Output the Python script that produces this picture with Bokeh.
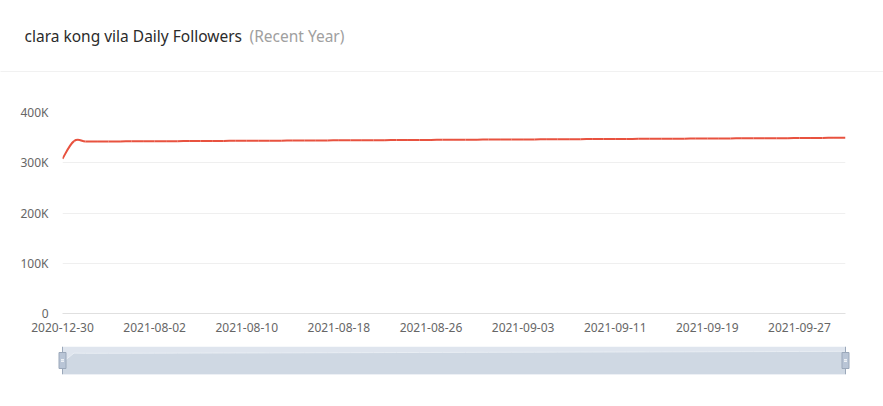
from bokeh.plotting import figure
from bokeh.models import Range1d, FixedTicker, ColumnDataSource
from bokeh.core.properties import value
from bokeh.embed import file_html
from bokeh.resources import INLINE

title_main = "clara kong vila Daily Followers"
title_sub = "(Recent Year)"

dates = ["2020-12-30",
         "2021-07-26", "2021-07-27", "2021-07-28", "2021-07-29", "2021-07-30", "2021-07-31",
         "2021-08-01", "2021-08-02", "2021-08-03", "2021-08-04", "2021-08-05", "2021-08-06",
         "2021-08-07", "2021-08-08", "2021-08-09", "2021-08-10", "2021-08-11", "2021-08-12",
         "2021-08-13", "2021-08-14", "2021-08-15", "2021-08-16", "2021-08-17", "2021-08-18",
         "2021-08-19", "2021-08-20", "2021-08-21", "2021-08-22", "2021-08-23", "2021-08-24",
         "2021-08-25", "2021-08-26", "2021-08-27", "2021-08-28", "2021-08-29", "2021-08-30",
         "2021-08-31", "2021-09-01", "2021-09-02", "2021-09-03", "2021-09-04", "2021-09-05",
         "2021-09-06", "2021-09-07", "2021-09-08", "2021-09-09", "2021-09-10", "2021-09-11",
         "2021-09-12", "2021-09-13", "2021-09-14", "2021-09-15", "2021-09-16", "2021-09-17",
         "2021-09-18", "2021-09-19", "2021-09-20", "2021-09-21", "2021-09-22", "2021-09-23",
         "2021-09-24", "2021-09-25", "2021-09-26", "2021-09-27", "2021-09-28", "2021-09-29",
         "2021-09-30", "2021-10-01"]

followers = [308000, 343000,
             342200, 342300, 342400, 342500, 342600, 342700, 342800, 342900, 343000, 343100,
             343250, 343400, 343500, 343600, 343700, 343800, 343900, 344000, 344100, 344250,
             344400, 344500, 344600, 344700, 344800, 344900, 345000, 345150, 345300, 345400,
             345500, 345600, 345700, 345800, 345950, 346100, 346200, 346300, 346400, 346500,
             346600, 346750, 346900, 347000, 347100, 347200, 347300, 347400, 347550, 347700,
             347800, 347900, 348000, 348100, 348200, 348350, 348500, 348600, 348700, 348800,
             348900, 349000, 349150, 349300, 349450, 349600, 349750]

y_ticks = [0, 100000, 200000, 300000, 400000]
y_tick_labels = ["0", "100K", "200K", "300K", "400K"]
label_every = 8

N = len(followers)
xs = list(range(N))
FONT = "Noto Sans"
LINE_COLOR = "#e8523f"
W = 883

# ---------- smooth (cardinal) bezier segments computed from the data ----------
def bezier_segments(x, y, t=0.2):
    x0, y0, x1, y1, cx0, cy0, cx1, cy1 = [], [], [], [], [], [], [], []
    n = len(x)
    for i in range(n - 1):
        ip = max(i - 1, 0)
        inn = min(i + 2, n - 1)
        x0.append(x[i]); y0.append(y[i])
        x1.append(x[i + 1]); y1.append(y[i + 1])
        cx0.append(x[i] + (x[i + 1] - x[ip]) * t)
        cy0.append(y[i] + (y[i + 1] - y[ip]) * t)
        cx1.append(x[i + 1] - (x[inn] - x[i]) * t)
        cy1.append(y[i + 1] - (y[inn] - y[i]) * t)
    return dict(x0=x0, y0=y0, x1=x1, y1=y1, cx0=cx0, cy0=cy0, cx1=cx1, cy1=cy1)

seg = ColumnDataSource(bezier_segments(xs, followers))

# ---------- header ----------
header = figure(width=W, height=72, output_backend="svg", toolbar_location=None,
                x_range=Range1d(0, W), y_range=Range1d(0, 72),
                x_axis_location=None, y_axis_location=None,
                min_border_left=0, min_border_right=0, min_border_top=0, min_border_bottom=0,
                outline_line_color=None)
header.grid.visible = False
header.text(x=[24], y=[37], text=[title_main], text_font=value(FONT),
            text_font_size="15.5px", text_color="#2b2b2b", text_baseline="middle")
header.text(x=[249], y=[37], text=[title_sub], text_font=value(FONT),
            text_font_size="15.5px", text_color="#a0a0a0", text_baseline="middle")
header.segment(x0=[-10], y0=[0.5], x1=[W + 10], y1=[0.5], line_color="#e3e3e3", line_width=1)

# ---------- main chart ----------
p = figure(width=W, height=266, output_backend="svg", toolbar_location=None,
           x_range=Range1d(0, N - 1), y_range=Range1d(0, 400000),
           min_border_left=62, min_border_right=38, min_border_top=40, min_border_bottom=25,
           outline_line_color=None)
p.bezier(x0="x0", y0="y0", x1="x1", y1="y1", cx0="cx0", cy0="cy0", cx1="cx1", cy1="cy1",
         source=seg, line_color=LINE_COLOR, line_width=2)

p.xgrid.visible = False
p.ygrid.grid_line_color = "#efefef"
p.ygrid.ticker = FixedTicker(ticks=y_ticks)

p.yaxis.ticker = FixedTicker(ticks=y_ticks)
p.yaxis.major_label_overrides = {t: l for t, l in zip(y_ticks, y_tick_labels)}
p.yaxis.axis_line_color = None
p.yaxis.major_tick_line_color = None
p.yaxis.minor_tick_line_color = None
p.yaxis.major_label_standoff = 8
p.yaxis.major_label_text_font = FONT
p.yaxis.major_label_text_font_size = "12px"
p.yaxis.major_label_text_color = "#666666"

xt = list(range(0, N, label_every))
p.xaxis.ticker = FixedTicker(ticks=xt)
p.xaxis.major_label_overrides = {i: dates[i] for i in xt}
p.xaxis.axis_line_color = "#e0e0e0"
p.xaxis.major_tick_line_color = None
p.xaxis.minor_tick_line_color = None
p.xaxis.major_label_standoff = 3
p.xaxis.major_label_text_font = FONT
p.xaxis.major_label_text_font_size = "12px"
p.xaxis.major_label_text_color = "#666666"

# ---------- data-zoom slider ----------
d = 783 / (N - 1)
pad = 6 / d
s = figure(width=W, height=66, output_backend="svg", toolbar_location=None,
           x_range=Range1d(-pad, N - 1 + pad), y_range=Range1d(262000, 368000),
           x_axis_location=None, y_axis_location=None,
           min_border_left=56, min_border_right=32, min_border_top=8, min_border_bottom=30,
           outline_line_color=None)
s.grid.visible = False
s.quad(left=[0], right=[N - 1], bottom=[262000], top=[368000],
       fill_color="#dfe5ee", line_color=None)
s.varea(x=xs, y1=[262000] * N, y2=followers, fill_color="#cfd8e3")
s.line(x=xs, y=followers, line_color="#e8edf3", line_width=1)
s.segment(x0=[0, N - 1], y0=[262000, 262000], x1=[0, N - 1], y1=[368000, 368000],
          line_color="#9ba8ba", line_width=1)
s.rect(x=[0, N - 1], y=[315000, 315000], width=7, height=16,
       width_units="screen", height_units="screen",
       fill_color="#b9c5d6", line_color="#9ba8ba", line_width=1)
s.rect(x=[0, 0, N - 1, N - 1], y=[317500, 312500, 317500, 312500], width=3, height=1,
       width_units="screen", height_units="screen",
       fill_color="white", line_color=None)

open("out.html", "w").write(file_html([header, p, s], INLINE))
